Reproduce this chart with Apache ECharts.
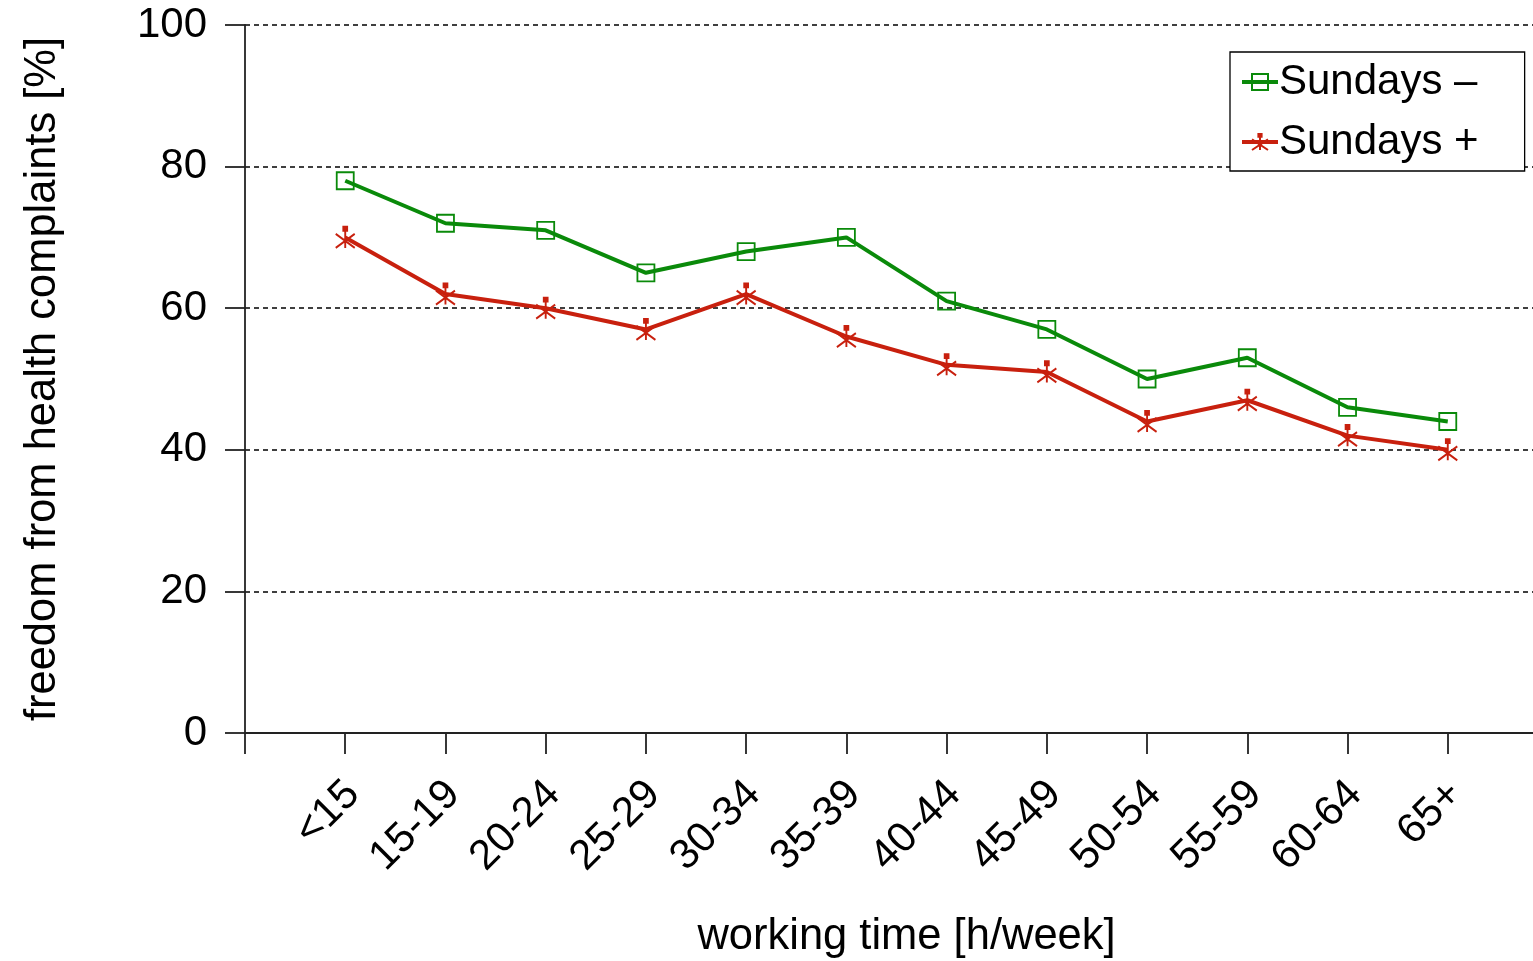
<!DOCTYPE html>
<html>
<head>
<meta charset="utf-8">
<script src="https://cdn.jsdelivr.net/npm/echarts@6/dist/echarts.min.js"></script>
<style>
html,body{margin:0;padding:0;background:#fff;overflow:hidden;width:1533px;height:961px;}
#wrap{position:relative;width:1533px;height:961px;overflow:hidden;}
#chart{position:absolute;left:0;top:0;width:1548px;height:961px;}
</style>
</head>
<body>
<div id="wrap"><div id="chart"></div></div>
<script>
// categories (with empty padding slots at both ends, as in the original axis)
const categories = ['', '<15', '15-19', '20-24', '25-29', '30-34', '35-39', '40-44', '45-49', '50-54', '55-59', '60-64', '65+', ''];
const sundaysMinus = [null, 78, 72, 71, 65, 68, 70, 61, 57, 50, 53, 46, 44, null];
const sundaysPlus  = [null, 70, 62, 60, 57, 62, 56, 52, 51, 44, 47, 42, 40, null];
const seriesNames = ['Sundays \u2013', 'Sundays +'];
const yTicks = [0, 20, 40, 60, 80, 100];

const GREEN = '#0a8a0a';
const RED = '#c8200e';
const FONT = 'Liberation Sans, Arial, sans-serif';

const chart = echarts.init(document.getElementById('chart'), null, {renderer: 'canvas'});
chart.setOption({
  backgroundColor: '#ffffff',
  animation: false,
  textStyle: {fontFamily: FONT, color: '#000'},
  grid: {left: 245, top: 25, bottom: 228, right: 0, containLabel: false, outerBoundsMode: 'none'},
  legend: {
    left: 1230, top: 52,
    orient: 'vertical',
    data: seriesNames,
    backgroundColor: '#fff',
    borderColor: '#000',
    borderWidth: 1.3,
    padding: [9, 46, 8, 10],
    itemWidth: 36, itemHeight: 20,
    itemGap: 18,
    lineStyle: {width: 4},
    textStyle: {fontSize: 42, fontFamily: FONT, color: '#000', lineHeight: 42, padding: [0,0,0,-4]}
  },
  xAxis: {
    type: 'category',
    data: categories,
    boundaryGap: false,
    name: 'working time [h/week]',
    nameLocation: 'middle',
    nameGap: 182,
    nameTextStyle: {fontSize: 43.5, fontFamily: FONT, color: '#000', padding: [0,0,0,20]},
    axisLine: {lineStyle: {color: '#222', width: 1.8}},
    axisTick: {show: true, length: 21, alignWithLabel: true, interval: function(i){ return i < categories.length - 1; }, lineStyle: {color: '#222', width: 1.8}},
    axisLabel: {
      interval: 0, rotate: 45, fontSize: 42, fontFamily: FONT, color: '#000',
      margin: 33, verticalAlign: 'top', align: 'right', padding: [0, 10, 0, 0]
    },
    splitLine: {show: false}
  },
  yAxis: {
    type: 'value',
    min: 0, max: 100, interval: 20,
    name: 'freedom from health complaints [%]',
    nameLocation: 'middle',
    nameGap: 180,
    nameTextStyle: {fontSize: 43.5, fontFamily: FONT, color: '#000'},
    axisLine: {show: true, lineStyle: {color: '#222', width: 1.8}},
    axisTick: {show: true, length: 20, lineStyle: {color: '#222', width: 1.8}},
    axisLabel: {fontSize: 42, fontFamily: FONT, color: '#000', margin: 38,
      formatter: function(v){ return yTicks.indexOf(v) >= 0 ? String(v) : ''; }},
    splitLine: {show: true, lineStyle: {color: '#000', width: 1.5, type: [5, 4]}}
  },
  series: [
    {
      name: seriesNames[0],
      type: 'line',
      data: sundaysMinus,
      symbol: 'path://M0,0 L10,0 L10,10 L0,10 Z',
      symbolSize: 17,
      lineStyle: {color: GREEN, width: 4},
      itemStyle: {color: 'rgba(0,0,0,0)', borderColor: GREEN, borderWidth: 1.8},
      z: 3
    },
    {
      name: seriesNames[1],
      type: 'line',
      data: sundaysPlus,
      symbol: 'path://M2,6 L18,18 M18,6 L2,18 M10,2 L10,18 M8.4,0 L11.6,0 L11.6,3.2 L8.4,3.2 Z',
      symbolSize: [19, 21],
      lineStyle: {color: RED, width: 4},
      itemStyle: {color: RED, borderColor: RED, borderWidth: 2},
      z: 2
    }
  ]
});
</script>
</body>
</html>
